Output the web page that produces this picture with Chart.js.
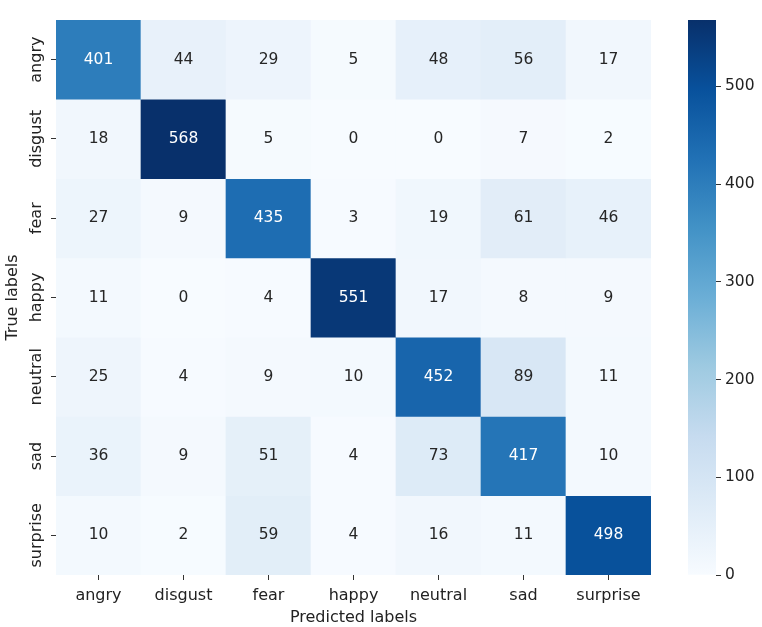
<!DOCTYPE html>
<html>
<head>
<meta charset="utf-8">
<script src="https://cdn.jsdelivr.net/npm/chart.js@4.4.1/dist/chart.umd.min.js"></script>
<style>
html, body { margin: 0; padding: 0; background: #fff; }
#heat { position: absolute; left: 0; top: 0; }
#bar { position: absolute; left: 670px; top: 0; }
</style>
</head>
<body>
<canvas id="heat" width="670" height="627"></canvas>
<canvas id="bar" width="92" height="627"></canvas>
<script>
// confusion matrix data (rows = true labels, columns = predicted labels)
const labels = ['angry', 'disgust', 'fear', 'happy', 'neutral', 'sad', 'surprise'];
const angryRow = [401, 44, 29, 5, 48, 56, 17];
const disgustRow = [18, 568, 5, 0, 0, 7, 2];
const fearRow = [27, 9, 435, 3, 19, 61, 46];
const happyRow = [11, 0, 4, 551, 17, 8, 9];
const neutralRow = [25, 4, 9, 10, 452, 89, 11];
const sadRow = [36, 9, 51, 4, 73, 417, 10];
const surpriseRow = [10, 2, 59, 4, 16, 11, 498];
const colorbarTicks = [0, 100, 200, 300, 400, 500];
const vmax = 568;

const rows = [angryRow, disgustRow, fearRow, happyRow, neutralRow, sadRow, surpriseRow];

// matplotlib "Blues"
const blues = ['#f7fbff', '#deebf7', '#c6dbef', '#9ecae1', '#6baed6', '#4292c6', '#2171b5', '#08519c', '#08306b'];
function hexToRgb(h) {
    return [parseInt(h.slice(1, 3), 16), parseInt(h.slice(3, 5), 16), parseInt(h.slice(5, 7), 16)];
}
function blueRgb(v) {
    const t = Math.max(0, Math.min(1, v / vmax)) * 8;
    const i = Math.min(7, Math.floor(t));
    const f = t - i;
    const a = hexToRgb(blues[i]), b = hexToRgb(blues[i + 1]);
    return a.map((c, k) => Math.round(c + (b[k] - c) * f));
}
function blue(v) {
    const c = blueRgb(v);
    return 'rgb(' + c.join(',') + ')';
}
function textColor(v) {
    const lin = blueRgb(v).map(c => {
        c = c / 255;
        return c <= 0.03928 ? c / 12.92 : Math.pow((c + 0.055) / 1.055, 2.4);
    });
    const lum = 0.2126 * lin[0] + 0.7152 * lin[1] + 0.0722 * lin[2];
    return lum > 0.408 ? '#262626' : '#ffffff';
}

Chart.defaults.font.family = '"DejaVu Sans"';
Chart.defaults.color = '#222';

const heatText = {
    id: 'heatText',
    afterDatasetsDraw(chart) {
        const ctx = chart.ctx;
        ctx.save();
        ctx.textAlign = 'center';
        ctx.textBaseline = 'middle';
        ctx.font = '15.5px "DejaVu Sans"';
        chart.data.datasets.forEach((ds, r) => {
            chart.getDatasetMeta(r).data.forEach((bar, c) => {
                const p = bar.getProps(['x', 'y', 'base'], true);
                const v = rows[r][c];
                ctx.fillStyle = textColor(v);
                ctx.fillText(String(v), p.x, (p.y + p.base) / 2);
            });
        });
        // vertical y tick labels
        const s = chart.scales.yLab;
        ctx.fillStyle = '#222';
        ctx.font = '16px "DejaVu Sans"';
        labels.forEach((l, i) => {
            ctx.save();
            ctx.translate(s.right - 19.5, s.getPixelForTick(i));
            ctx.rotate(-Math.PI / 2);
            ctx.fillText(l, 0, 0);
            ctx.restore();
        });
        ctx.restore();
    }
};

new Chart(document.getElementById('heat'), {
    type: 'bar',
    data: {
        labels: labels,
        datasets: rows.map((row, r) => ({
            data: row.map(() => [r, r + 1]),
            backgroundColor: row.map(blue),
            grouped: false,
            barPercentage: 1,
            categoryPercentage: 1,
            borderWidth: 0,
            xAxisID: 'x',
            yAxisID: 'y'
        }))
    },
    options: {
        responsive: false,
        animation: false,
        layout: {padding: {top: 20, right: 19, left: 0, bottom: 0}},
        plugins: {legend: {display: false}, tooltip: {enabled: false}},
        scales: {
            x: {
                type: 'category',
                position: 'bottom',
                offset: true,
                grid: {offset: false, drawOnChartArea: false, drawTicks: true, tickLength: 5, color: '#333'},
                border: {display: false},
                ticks: {font: {size: 16}, padding: 6, maxRotation: 0, color: '#222'},
                title: {display: true, text: 'Predicted labels', font: {size: 16}, padding: {top: 4, bottom: 0}, color: '#222'},
                afterFit: s => { s.height = 52; }
            },
            y: {type: 'linear', min: 0, max: 7, reverse: true, display: false},
            yLab: {
                type: 'category',
                labels: labels,
                position: 'left',
                offset: true,
                grid: {offset: false, drawOnChartArea: false, drawTicks: true, tickLength: 5, color: '#333'},
                border: {display: false},
                ticks: {display: false},
                title: {display: true, text: 'True labels', font: {size: 16}, padding: {top: 3, bottom: 4}, color: '#222'},
                afterFit: s => { s.width = 56; }
            }
        }
    },
    plugins: [heatText]
});

// colorbar
new Chart(document.getElementById('bar'), {
    type: 'bar',
    data: {
        labels: [''],
        datasets: [{
            data: [vmax],
            backgroundColor: context => {
                const a = context.chart.chartArea;
                if (!a) return blues[0];
                const g = context.chart.ctx.createLinearGradient(0, a.bottom, 0, a.top);
                blues.forEach((c, i) => g.addColorStop(i / 8, c));
                return g;
            },
            barPercentage: 1,
            categoryPercentage: 1,
            borderWidth: 0
        }]
    },
    options: {
        responsive: false,
        animation: false,
        layout: {padding: {left: 18, top: 20, bottom: 52, right: 0}},
        plugins: {legend: {display: false}, tooltip: {enabled: false}},
        scales: {
            x: {display: false},
            y: {
                position: 'right',
                min: 0,
                max: vmax,
                afterBuildTicks: s => { s.ticks = colorbarTicks.map(v => ({value: v})); },
                grid: {drawOnChartArea: false, tickLength: 5, color: '#333'},
                border: {display: false},
                ticks: {font: {size: 15.5}, color: '#222', padding: 4},
                afterFit: s => { s.width = 46; }
            }
        }
    }
});
</script>
</body>
</html>
